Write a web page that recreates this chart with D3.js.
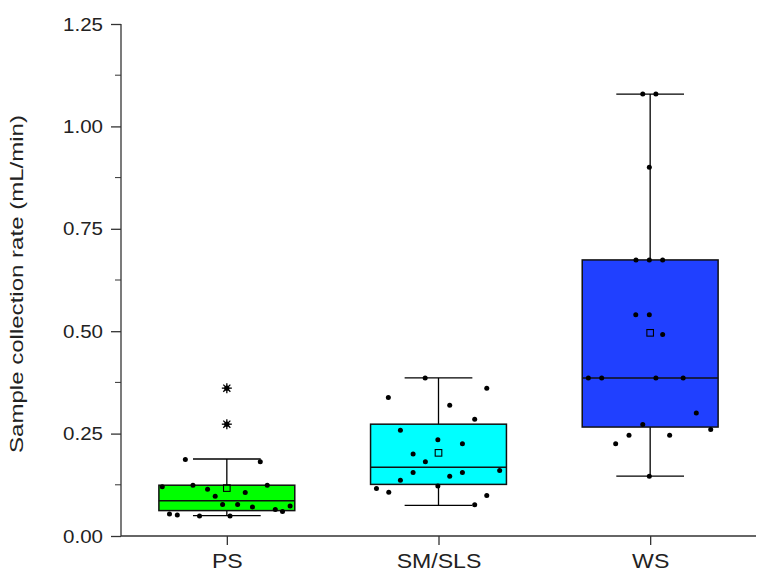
<!DOCTYPE html>
<html><head><meta charset="utf-8">
<script src="https://cdn.jsdelivr.net/npm/d3@7"></script>
<style>body{margin:0;background:#fff}svg{display:block}</style>
</head><body>
<svg id="c" width="768" height="583"></svg>
<script>
const categories = ["PS", "SM/SLS", "WS"];
const boxColors = ["#00ff00", "#00ffff", "#2040ff"];
// box statistics per category: [lower whisker, Q1, median, Q3, upper whisker, mean]
const psStats = [0.0496, 0.062, 0.086, 0.124, 0.188, 0.117];
const smStats = [0.075, 0.126, 0.168, 0.273, 0.386, 0.203];
const wsStats = [0.146, 0.266, 0.386, 0.674, 1.079, 0.496];
// raw data points (value) and horizontal jitter (category units)
const psValues = [0.187,0.181,0.120,0.124,0.124,0.114,0.106,0.097,0.077,0.077,0.071,0.065,0.060,0.073,0.054,0.051,0.049,0.049];
const psJitter = [-0.196,0.158,-0.305,-0.160,0.191,-0.091,0.087,-0.055,-0.020,0.051,0.121,0.229,0.263,0.299,-0.271,-0.234,-0.129,0.015];
const psOutliers = [0.273, 0.361];
const smValues = [0.386,0.361,0.338,0.319,0.285,0.258,0.235,0.225,0.200,0.181,0.160,0.155,0.155,0.146,0.136,0.122,0.116,0.107,0.099,0.076];
const smJitter = [-0.063,0.228,-0.237,0.053,0.171,-0.180,-0.003,0.113,-0.120,-0.062,0.289,-0.120,0.113,0.053,-0.180,-0.003,-0.293,-0.235,0.228,0.171];
const smOutliers = [];
const wsValues = [1.079,1.079,0.900,0.674,0.674,0.674,0.540,0.540,0.492,0.386,0.386,0.386,0.386,0.300,0.272,0.260,0.246,0.246,0.225,0.146];
const wsJitter = [-0.035,0.027,-0.004,-0.067,-0.004,0.059,-0.068,-0.004,0.059,-0.292,-0.229,0.027,0.156,0.218,-0.035,0.286,-0.100,0.092,-0.163,-0.004];
const wsOutliers = [];
const yTicks = [0, 0.25, 0.5, 0.75, 1.0, 1.25];
const yMinorTicks = [0.125, 0.375, 0.625, 0.875, 1.125];
const yTitle = "Sample collection rate (mL/min)";

const groups = [
  {name: categories[0], color: boxColors[0], stats: psStats, values: psValues, jitter: psJitter, outliers: psOutliers},
  {name: categories[1], color: boxColors[1], stats: smStats, values: smValues, jitter: smJitter, outliers: smOutliers},
  {name: categories[2], color: boxColors[2], stats: wsStats, values: wsValues, jitter: wsJitter, outliers: wsOutliers}
];

const W = 768, H = 583;
const m = {left: 121, top: 24, right: 12, bottom: 47};
const svg = d3.select("#c");
const x = d3.scaleLinear().domain([0.5, 3.5]).range([m.left, W - m.right]);
const y = d3.scaleLinear().domain([0, 1.25]).range([H - m.bottom, m.top]);
const font = "'Liberation Sans', Arial, sans-serif";
const boxW = 0.642, capW = 0.32;

const g = svg.append("g");
groups.forEach((d, i) => {
  const c = i + 1;
  const [lw, q1, med, q3, uw, mean] = d.stats;
  const gg = g.append("g");
  // whiskers
  gg.append("line").attr("x1", x(c)).attr("x2", x(c)).attr("y1", y(q3)).attr("y2", y(uw)).attr("stroke", "#000").attr("stroke-width", 1.3);
  gg.append("line").attr("x1", x(c)).attr("x2", x(c)).attr("y1", y(q1)).attr("y2", y(lw)).attr("stroke", "#000").attr("stroke-width", 1.3);
  gg.append("line").attr("x1", x(c - capW/2)).attr("x2", x(c + capW/2)).attr("y1", y(uw)).attr("y2", y(uw)).attr("stroke", "#000").attr("stroke-width", 1.3);
  gg.append("line").attr("x1", x(c - capW/2)).attr("x2", x(c + capW/2)).attr("y1", y(lw)).attr("y2", y(lw)).attr("stroke", "#000").attr("stroke-width", 1.3);
  // box
  gg.append("rect").attr("x", x(c - boxW/2)).attr("y", y(q3)).attr("width", x(c + boxW/2) - x(c - boxW/2)).attr("height", y(q1) - y(q3))
    .attr("fill", d.color).attr("stroke", "#111").attr("stroke-width", 1.5);
  gg.append("line").attr("x1", x(c - boxW/2)).attr("x2", x(c + boxW/2)).attr("y1", y(med)).attr("y2", y(med)).attr("stroke", "#111").attr("stroke-width", 1.5);
  // mean
  gg.append("rect").attr("x", x(c) - 3.3).attr("y", y(mean) - 3.3).attr("width", 6.6).attr("height", 6.6)
    .attr("fill", "none").attr("stroke", "#000").attr("stroke-width", 1.1);
  // points
  gg.selectAll("circle.pt").data(d.values.map((v, k) => ({v, j: d.jitter[k]}))).join("circle")
    .attr("class", "pt").attr("cx", p => x(c + p.j)).attr("cy", p => y(p.v)).attr("r", 2.5).attr("fill", "#000");
  // outliers (asterisk)
  d.outliers.forEach(v => {
    const cx = x(c), cy = y(v), r = 5;
    for (let a = 0; a < 4; a++) {
      const ang = a * Math.PI / 4;
      gg.append("line").attr("x1", cx - r*Math.cos(ang)).attr("x2", cx + r*Math.cos(ang))
        .attr("y1", cy - r*Math.sin(ang)).attr("y2", cy + r*Math.sin(ang)).attr("stroke", "#000").attr("stroke-width", 1.3);
    }
    gg.append("circle").attr("cx", cx).attr("cy", cy).attr("r", 2.6).attr("fill", "#000");
  });
});

// axes
const ya = svg.append("g").attr("transform", `translate(${m.left},0)`)
  .call(d3.axisLeft(y).tickValues(yTicks).tickFormat(d3.format(".2f")).tickSize(10).tickPadding(8));
ya.append("g").selectAll("line").data(yMinorTicks).join("line")
  .attr("x1", 0).attr("x2", -6).attr("y1", d => y(d)).attr("y2", d => y(d)).attr("stroke", "#333");
const xa = svg.append("g").attr("transform", `translate(0,${H - m.bottom})`)
  .call(d3.axisBottom(x).tickValues([1,2,3]).tickFormat(d => categories[d-1]).tickSize(9).tickPadding(8));
[ya, xa].forEach(a => {
  a.select(".domain").attr("stroke", "#333").attr("stroke-width", 1.3);
  a.selectAll(".tick line").attr("stroke", "#333").attr("stroke-width", 1.3);
  a.selectAll("text").attr("font-family", font).attr("fill", "#222");
});
ya.selectAll(".tick text").attr("font-size", 19);
xa.selectAll(".tick text").attr("font-size", 21);
function stretch(sel, f) {
  sel.each(function() {
    const L = this.getComputedTextLength();
    d3.select(this).attr("textLength", L * f).attr("lengthAdjust", "spacingAndGlyphs");
  });
}
stretch(ya.selectAll(".tick text"), 1.08);
stretch(xa.selectAll(".tick text"), 1.1);
ya.select(".domain").attr("d", `M0,${y(0)}V${y(1.25)}`);
xa.select(".domain").attr("d", `M${m.left},0H${W - m.right}`);

const title = svg.append("text").attr("transform", `translate(23,284) rotate(-90)`)
  .attr("text-anchor", "middle").attr("font-family", font).attr("font-size", 19).attr("fill", "#222").text(yTitle);
title.attr("textLength", 338).attr("lengthAdjust", "spacingAndGlyphs");
</script>
</body></html>
